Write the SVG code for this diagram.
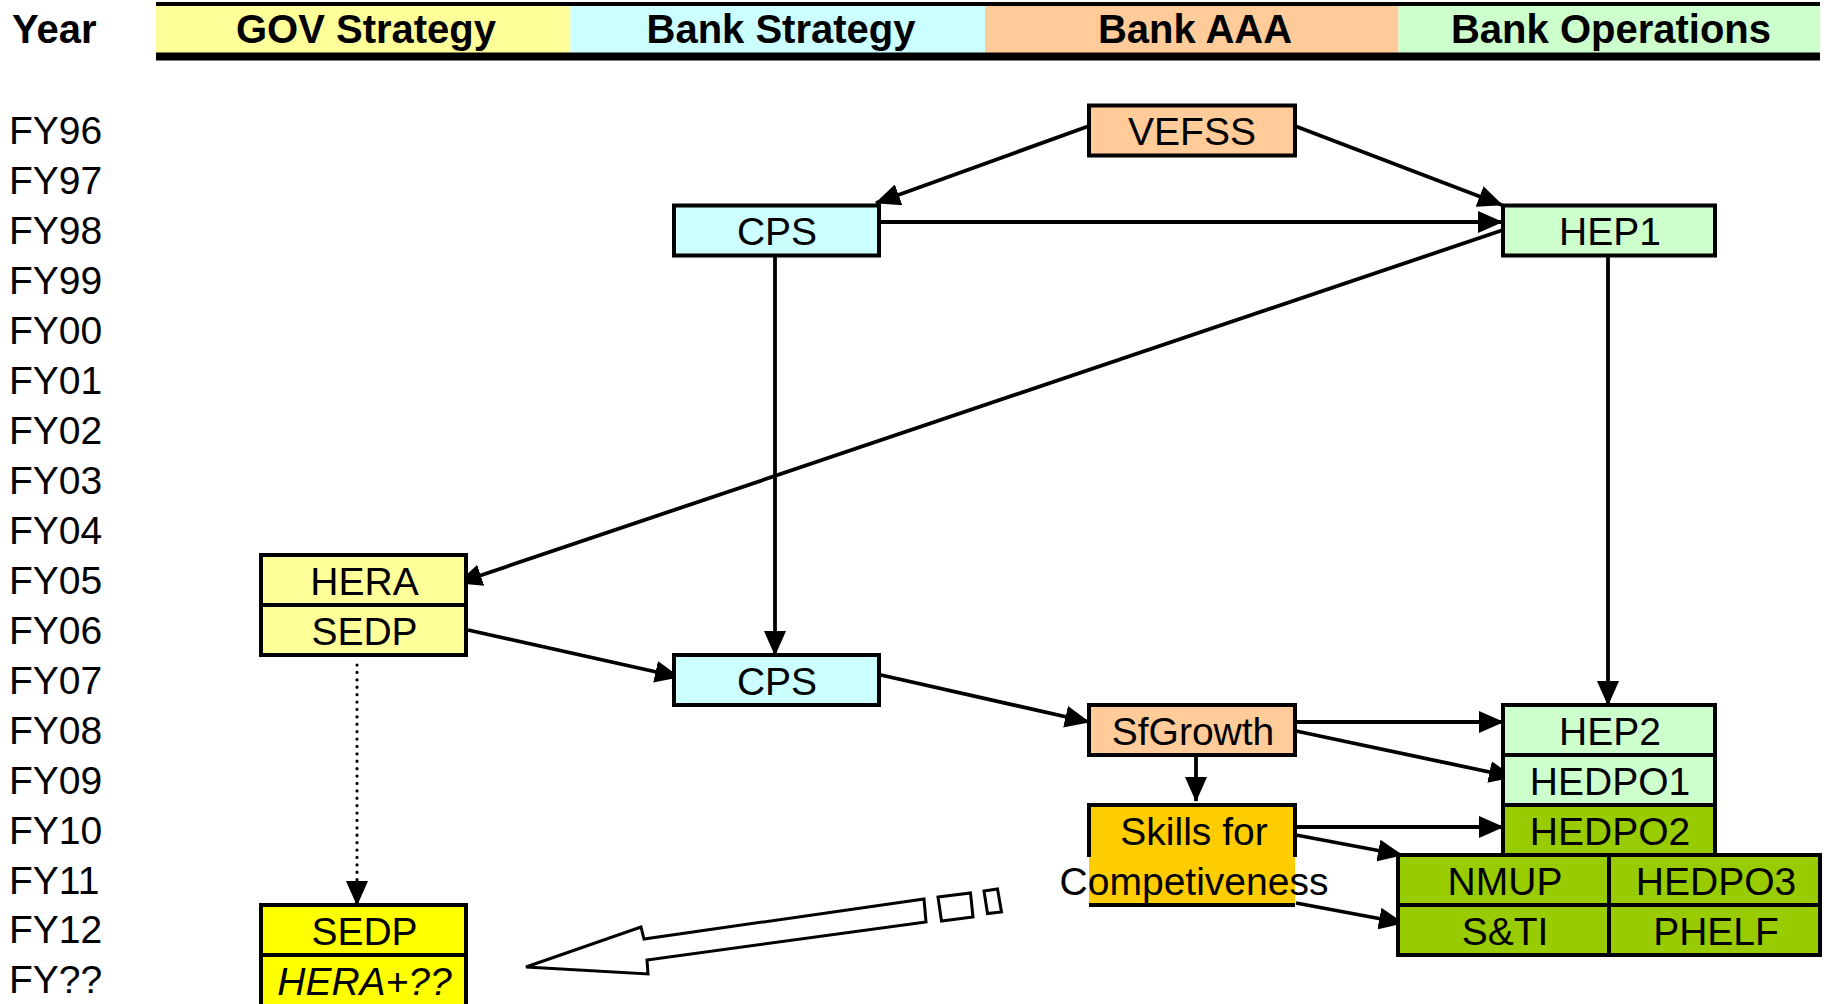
<svg xmlns="http://www.w3.org/2000/svg" width="1826" height="1004" viewBox="0 0 1826 1004">
<style>
text{font-family:"Liberation Sans",Arial,sans-serif;fill:#000}
.hd{font-size:40px;font-weight:bold;text-anchor:middle}
.fy{font-size:39px}
.lb{font-size:39px;text-anchor:middle}
.nb{stroke:#000;stroke-width:4}
.cn{stroke:#000;stroke-width:3.8;fill:none}
.gov{fill:#FFFF99}.bs{fill:#CCFFFF}.aaa{fill:#FFCC99}.ops{fill:#CCFFCC}.dg{fill:#99CC00}.yl{fill:#FFFF00}.or{fill:#FFCC00}
</style>
<defs>
<marker id="ah" markerUnits="userSpaceOnUse" markerWidth="25" markerHeight="22" refX="24" refY="11" orient="auto">
<path d="M0,0 L25,11 L0,22 z" fill="#000"/>
</marker>
</defs>
<rect width="1826" height="1004" fill="#fff"/>
<g id="header">
<rect x="156" y="2" width="1664" height="4" fill="#000"/>
<rect x="156" y="6" width="414.5" height="47" class="gov"/>
<rect x="570.5" y="6" width="414.5" height="47" class="bs"/>
<rect x="985" y="6" width="413.5" height="47" class="aaa"/>
<rect x="1398.5" y="6" width="421.5" height="47" class="ops"/>
<rect x="156" y="52.5" width="1664" height="8" fill="#000"/>
<text x="12" y="43" style="font-size:40px;font-weight:bold">Year</text>
<text x="366" y="43" class="hd">GOV Strategy</text>
<text x="781" y="43" class="hd">Bank Strategy</text>
<text x="1195" y="43" class="hd">Bank AAA</text>
<text x="1611" y="43" class="hd">Bank Operations</text>
</g>
<g id="years">
<text x="9" y="144.4" class="fy">FY96</text>
<text x="9" y="194.3" class="fy">FY97</text>
<text x="9" y="244.3" class="fy">FY98</text>
<text x="9" y="294.2" class="fy">FY99</text>
<text x="9" y="344.2" class="fy">FY00</text>
<text x="9" y="394.1" class="fy">FY01</text>
<text x="9" y="444.0" class="fy">FY02</text>
<text x="9" y="494.0" class="fy">FY03</text>
<text x="9" y="543.9" class="fy">FY04</text>
<text x="9" y="593.9" class="fy">FY05</text>
<text x="9" y="643.8" class="fy">FY06</text>
<text x="9" y="693.7" class="fy">FY07</text>
<text x="9" y="743.7" class="fy">FY08</text>
<text x="9" y="793.6" class="fy">FY09</text>
<text x="9" y="843.6" class="fy">FY10</text>
<text x="9" y="893.5" class="fy">FY11</text>
<text x="9" y="943.4" class="fy">FY12</text>
<text x="9" y="993.4" class="fy">FY??</text>
</g>
<g id="connectors">
<path class="cn" d="M1089,126 L876,203" marker-end="url(#ah)"/>
<path class="cn" d="M1295,126 L1502,205" marker-end="url(#ah)"/>
<path class="cn" d="M879,222 L1502,222" marker-end="url(#ah)"/>
<path class="cn" d="M1503,230 L458,583" marker-end="url(#ah)"/>
<path class="cn" d="M775,257 L775,655" marker-end="url(#ah)"/>
<path class="cn" d="M1608,257 L1608,705" marker-end="url(#ah)"/>
<path class="cn" d="M468,630 L679,677" marker-end="url(#ah)"/>
<path class="cn" d="M872,673 L1089,722" marker-end="url(#ah)"/>
<path class="cn" d="M1296,722 L1503,722" marker-end="url(#ah)"/>
<path class="cn" d="M1296,731 L1513,777" marker-end="url(#ah)"/>
<path class="cn" d="M1196,752 L1196,801" marker-end="url(#ah)"/>
<path class="cn" d="M1296,827 L1503,827" marker-end="url(#ah)"/>
<path class="cn" d="M1296,835 L1402,855" marker-end="url(#ah)"/>
<path class="cn" d="M1296,903 L1403,923" marker-end="url(#ah)"/>
<path d="M357,665 L357,884" stroke="#000" stroke-width="3.2" stroke-linecap="round" stroke-dasharray="0.1 7.3" fill="none"/>
<path class="cn" d="M357,884 L357,905" marker-end="url(#ah)" stroke-width="2"/>
</g>
<g id="VEFSS"><rect x="1089" y="105.5" width="206" height="50" class="aaa nb"/><text x="1192" y="145" class="lb">VEFSS</text></g>
<g id="CPS1"><rect x="674" y="205.5" width="205" height="50" class="bs nb"/><text x="777" y="245" class="lb">CPS</text></g>
<g id="HEP1"><rect x="1503" y="205.5" width="212" height="50" class="ops nb"/><text x="1610" y="245" class="lb">HEP1</text></g>
<g id="HERA"><rect x="261" y="555" width="205" height="50" class="gov nb"/><text x="364.5" y="595" class="lb">HERA</text></g>
<g id="SEDP1"><rect x="261" y="605" width="205" height="50" class="gov nb"/><text x="364.5" y="645" class="lb">SEDP</text></g>
<g id="CPS2"><rect x="674" y="655" width="205" height="50" class="bs nb"/><text x="777" y="695" class="lb">CPS</text></g>
<g id="SfGrowth"><rect x="1089" y="705" width="206" height="50" class="aaa nb"/><text x="1193" y="745" class="lb">SfGrowth</text></g>
<g id="HEP2"><rect x="1503" y="705" width="212" height="50" class="ops nb"/><text x="1610" y="745" class="lb">HEP2</text></g>
<g id="HEDPO1"><rect x="1503" y="755" width="212" height="50" class="ops nb"/><text x="1610" y="795" class="lb">HEDPO1</text></g>
<g id="HEDPO2"><rect x="1503" y="805" width="212" height="50" class="dg nb"/><text x="1610" y="845" class="lb">HEDPO2</text></g>
<g id="Skills">
<rect x="1089" y="805" width="206" height="100" class="or"/>
<path d="M1089,857 L1089,805 L1295,805 L1295,857 M1089,905 L1295,905" stroke="#000" stroke-width="4" fill="none"/>
<text x="1194" y="845" class="lb">Skills for</text>
<text x="1194" y="895" class="lb">Competiveness</text>
</g>
<g id="NMUP"><rect x="1398" y="855" width="211" height="50" class="dg nb"/><text x="1505" y="895" class="lb">NMUP</text></g>
<g id="HEDPO3"><rect x="1609" y="855" width="211" height="50" class="dg nb"/><text x="1716" y="895" class="lb">HEDPO3</text></g>
<g id="STI"><rect x="1398" y="905" width="211" height="50" class="dg nb"/><text x="1505" y="945" class="lb">S&amp;TI</text></g>
<g id="PHELF"><rect x="1609" y="905" width="211" height="50" class="dg nb"/><text x="1716" y="945" class="lb">PHELF</text></g>
<g id="SEDP2"><rect x="261" y="905" width="205" height="50" class="yl nb"/><text x="364.5" y="945" class="lb">SEDP</text></g>
<g id="HERAplus"><rect x="261" y="955" width="205" height="60" class="yl nb"/><text x="364.5" y="995" class="lb" font-style="italic">HERA+??</text></g>
<g id="bigarrow" stroke="#000" stroke-width="3" fill="#fff" stroke-linejoin="miter">
<polygon points="526,967 641,927 644,939 924,899 926,922 647,960 648,974"/>
<polygon points="938,897 970.5,893 973,917 941.5,921"/>
<polygon points="984,891 997.5,889 1001.5,912 987.5,913.5"/>
</g>
</svg>
